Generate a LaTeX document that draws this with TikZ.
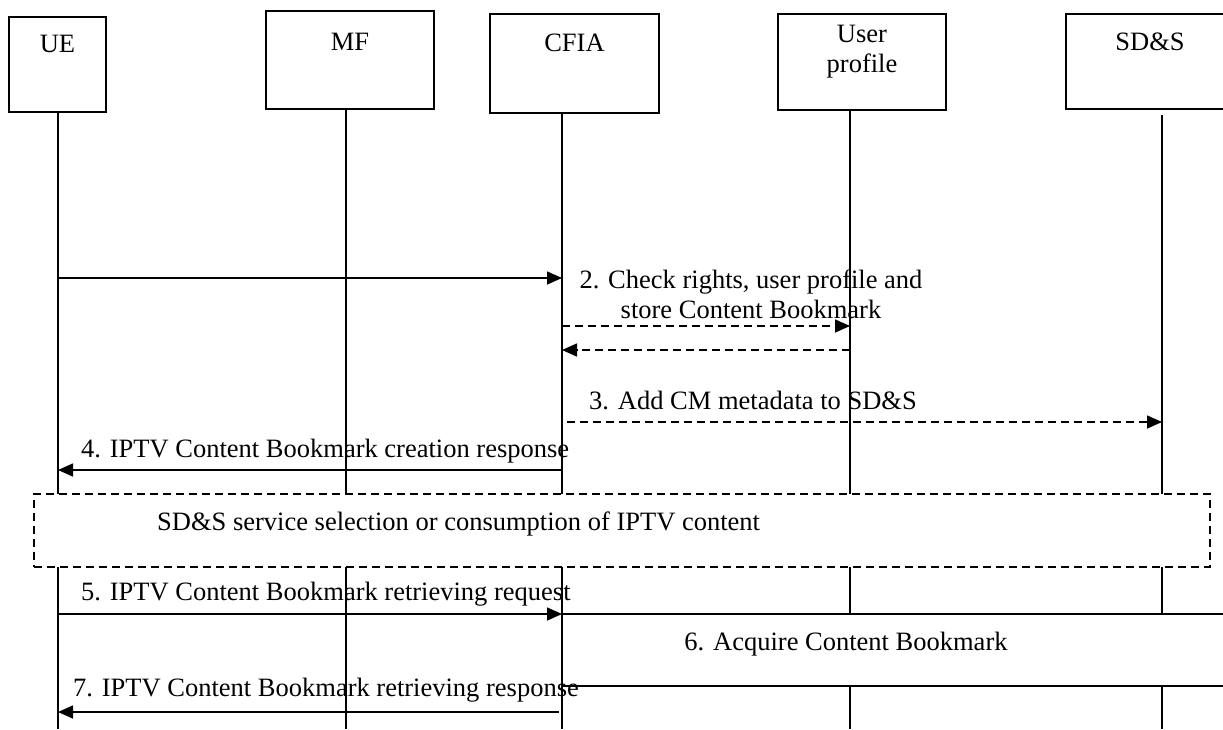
\documentclass[tikz,border=0pt]{standalone}
\usepackage{fontspec}
\setmainfont{Liberation Serif}
\usetikzlibrary{arrows.meta,calc,positioning}

\tikzset{
  entity/.style={draw,line width=1.5pt,minimum width=168pt,inner sep=0pt},
  life/.style={line width=1.6pt},
  msg/.style={line width=1.6pt,-{Triangle[length=15pt,width=13pt]}},
  reply/.style={msg,dash pattern=on 8pt off 5pt},
  lbl/.style={font=\fontsize{26.5}{30}\selectfont,inner sep=0pt,align=center}
}

\begin{document}
\begin{tikzpicture}[x=1pt,y=-1pt]
            \useasboundingbox (0,0) rectangle (1223,729);
            \def\xue{58}
            \def\xmf{346}
            \def\xcf{562}
            \def\xup{850}
            \def\xsd{1162}
            % lifelines
            \foreach \x in {\xue,\xmf,\xcf,\xup} \draw[life] (\x,110) -- (\x,729);
            \draw[life] (\xsd,115) -- (\xsd,729);
            % entities
            \node[entity,minimum width=97pt,minimum height=95pt,fill=white] (ue) at (57.5,64.5) {};
            \node[entity,minimum height=98pt,fill=white] (mf) at (350,60) {};
            \node[entity,minimum width=169pt,minimum height=99pt,fill=white] (cfia) at (574.5,63.5) {};
            \node[entity,minimum height=96pt,fill=white] (up) at (862,62) {};
            \node[entity,minimum height=95pt,fill=white] (sds) at (1150,61.5) {};
            \node[lbl,below=19pt of ue.north] (ue-t) {UE};
            \node[lbl,below=23pt of mf.north] (mf-t) {MF};
            \node[lbl,below=20pt of cfia.north] (cfia-t) {CFIA};
            \node[lbl,below=12pt of up.north] (up-t) {User\\profile};
            \node[lbl,below=19pt of sds.north] (sds-t) {SD\&S};
            % messages
            \coordinate (m1a) at (\xue,278);
            \coordinate (m1b) at (\xcf,278);
            \draw[msg] (m1a) -- (m1b);
            \node[lbl,anchor=north] (l2) at (751,270) {2. Check rights, user profile and\\store Content Bookmark};
            \coordinate (m2a) at (\xcf,326);
            \coordinate (m2b) at (\xup,326);
            \draw[reply] (m2a) -- (m2b);
            \coordinate (m2c) at (\xup,350);
            \coordinate (m2d) at (\xcf,350);
            \draw[reply] (m2c) -- (m2d);
            \coordinate (m3a) at (567,422);
            \coordinate (m3b) at (\xsd,422);
            \draw[reply] (m3a) -- (m3b);
            \node[lbl,anchor=base] (l3) at (753,409) {3. Add CM metadata to SD\&S};
            \coordinate (m4a) at (\xcf,470);
            \coordinate (m4b) at (\xue,470);
            \draw[msg] (m4a) -- (m4b);
            \node[lbl,anchor=base west] (l4) at (81,457) {4. IPTV Content Bookmark creation response};
            % SD&S selection
            \node[draw,line width=1.2pt,dash pattern=on 8pt off 5pt,fill=white,minimum width=1176pt,minimum height=73pt] (sel) at (622,530.5) {};
            \node[lbl,anchor=base west] (sel-t) at (157,530) {SD\&S service selection or consumption of IPTV content};
            \coordinate (m5a) at (\xue,614);
            \coordinate (m5b) at (\xcf,614);
            \draw[msg] (m5a) -- (m5b);
            \node[lbl,anchor=base west] (l5) at (81,600) {5. IPTV Content Bookmark retrieving request};
            \node[draw,line width=1.5pt,fill=white,minimum width=678pt,minimum height=72pt] (acq) at (901,650) {};
            \node[lbl,anchor=base] (l6) at (846,650) {6. Acquire Content Bookmark};
            \coordinate (m7a) at (559,712);
            \coordinate (m7b) at (\xue,712);
            \draw[msg] (m7a) -- (m7b);
            \node[lbl,anchor=base west] (l7) at (73,696) {7. IPTV Content Bookmark retrieving response};
          \end{tikzpicture}
\end{document}
